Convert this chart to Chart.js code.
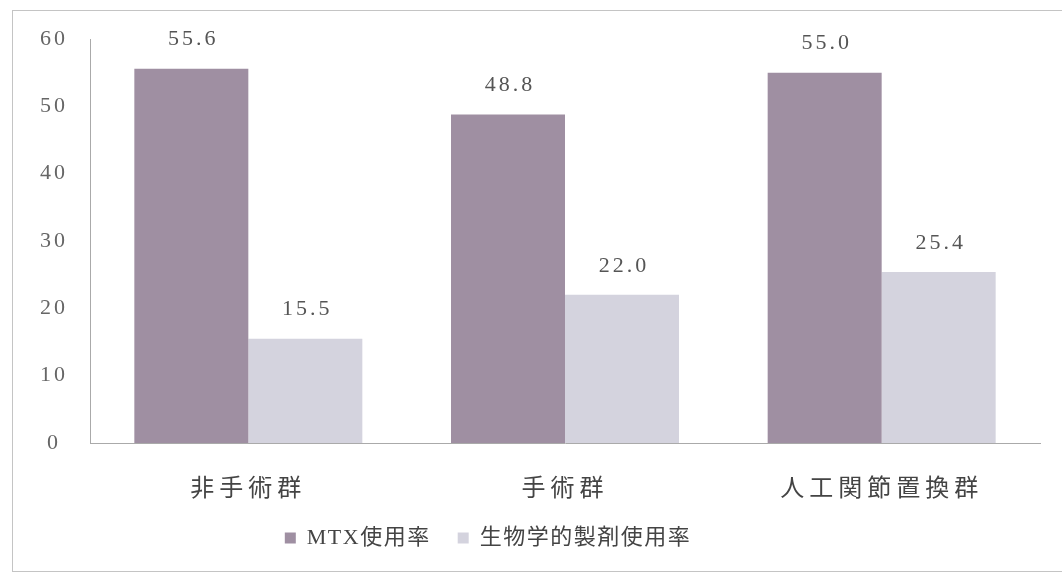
<!DOCTYPE html>
<html lang="ja">
<head>
<meta charset="utf-8">
<title>MTX・生物学的製剤使用率</title>
<script src="https://cdn.jsdelivr.net/npm/chart.js@4.4.1/dist/chart.umd.min.js"></script>
<style>
  html, body { margin: 0; padding: 0; background: #fff; }
  #wrap { position: relative; width: 1062px; height: 574px; }
  #frame {
    position: absolute; left: 12px; top: 10px; width: 1050px; height: 562px;
    border: 1px solid #c4c4c4; border-right: none; box-sizing: border-box;
    pointer-events: none;
  }
</style>
</head>
<body>
<div id="wrap">
  <canvas id="chartUse" width="1062" height="574"></canvas>
  <div id="frame"></div>
</div>
<script>
const groups = ["非手術群", "手術群", "人工関節置換群"];
const mtxRate = [55.6, 48.8, 55.0];
const bioRate = [15.5, 22.0, 25.4];
const yTicks = [0, 10, 20, 30, 40, 50, 60];

const serif = "'Liberation Serif', 'DejaVu Serif', serif";
const legendFont = "'Liberation Serif', 'Noto Sans CJK JP', serif";

// espaçamento entre letras por caixa (escala / legenda)
function spaced(box, sp) {
    if (!box || box._spaced) return;
    box._spaced = true;
    ["fit", "draw"].forEach(fn => {
        const orig = box[fn];
        box[fn] = function (...args) {
            const c = this.ctx;
            const old = c.letterSpacing;
            c.letterSpacing = sp;
            const r = orig.apply(this, args);
            c.letterSpacing = old;
            return r;
        };
    });
}

const letterSpacing = {
    id: "letterSpacing",
    beforeLayout(chart) {
        spaced(chart.scales.x, "5px");
        spaced(chart.scales.y, "3px");
        spaced(chart.legend, "1.5px");
    },
    afterLayout(chart) {
        // legenda um pouco à esquerda do centro
        chart.legend.left -= 32;
        chart.legend.right -= 32;
    }
};

// valores acima de cada barra
const valueLabels = {
    id: "valueLabels",
    afterDatasetsDraw(chart) {
        const ctx = chart.ctx;
        ctx.save();
        ctx.font = "22px " + serif;
        ctx.letterSpacing = "3px";
        ctx.fillStyle = "#555";
        ctx.textAlign = "center";
        ctx.textBaseline = "bottom";
        chart.data.datasets.forEach((ds, i) => {
            chart.getDatasetMeta(i).data.forEach((bar, j) => {
                ctx.fillText(ds.data[j].toFixed(1), bar.x + 2, bar.y - 18);
            });
        });
        ctx.restore();
    }
};

new Chart(document.getElementById("chartUse"), {
    type: "bar",
    data: {
        labels: groups,
        datasets: [
            {
                label: "MTX使用率",
                data: mtxRate,
                backgroundColor: "#9f8fa2"
            },
            {
                label: "生物学的製剤使用率",
                data: bioRate,
                backgroundColor: "#d4d3de"
            }
        ]
    },
    options: {
        responsive: false,
        animation: false,
        layout: { padding: { top: 39, right: 22, bottom: 15, left: 0 } },
        datasets: { bar: { categoryPercentage: 0.72, barPercentage: 1.0 } },
        plugins: {
            tooltip: { enabled: false },
            legend: {
                position: "bottom",
                labels: {
                    boxWidth: 11,
                    boxHeight: 11,
                    padding: 27,
                    color: "#444",
                    font: { family: legendFont, size: 22 }
                }
            }
        },
        scales: {
            x: {
                grid: { display: false, drawTicks: false },
                border: { display: true, color: "#aaa", dash: [2, 2] },
                ticks: {
                    padding: 29,
                    color: "#444",
                    font: { family: "'Noto Sans CJK JP', sans-serif", size: 24 }
                },
                afterFit(scale) { scale.height = 57; }
            },
            y: {
                min: 0,
                max: 60,
                afterBuildTicks(scale) { scale.ticks = yTicks.map(v => ({ value: v })); },
                grid: { display: false, drawTicks: false },
                border: { display: true, color: "#aaa", dash: [2, 2] },
                ticks: {
                    padding: 25,
                    crossAlign: "center",
                    color: "#666",
                    font: { family: serif, size: 22 }
                },
                afterFit(scale) { scale.width = 90; }
            }
        }
    },
    plugins: [letterSpacing, valueLabels]
});
</script>
</body>
</html>
